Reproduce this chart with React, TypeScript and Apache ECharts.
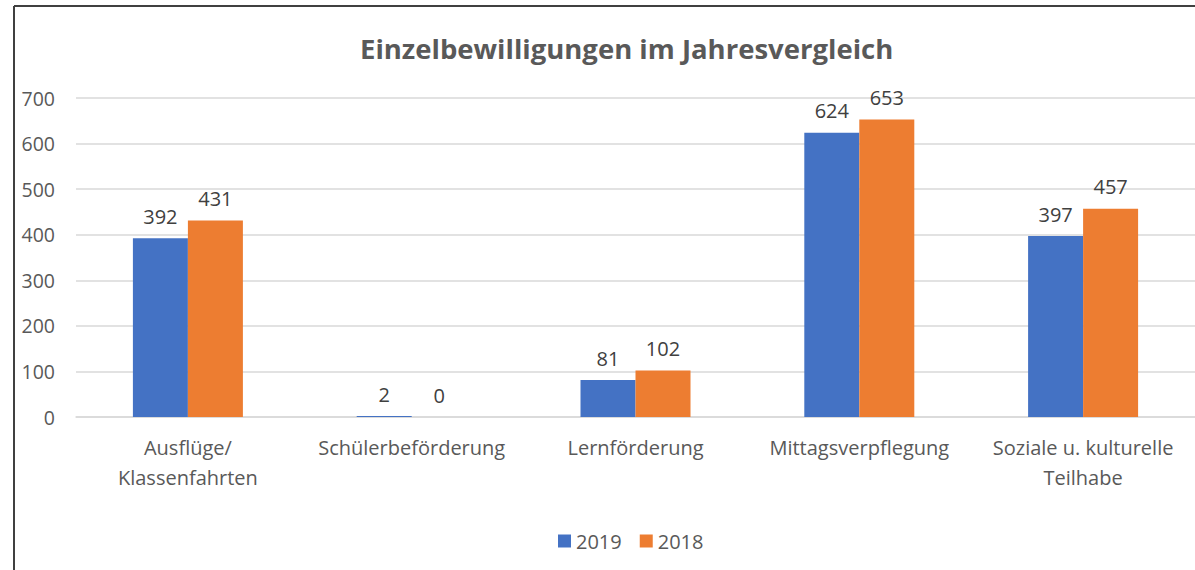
import React, { useEffect, useRef } from "react";
import * as echarts from "echarts";

const categories = [
  "Ausflüge/\nKlassenfahrten",
  "Schülerbeförderung",
  "Lernförderung",
  "Mittagsverpflegung",
  "Soziale u. kulturelle\nTeilhabe",
];
const values2019 = [392, 2, 81, 624, 397];
const values2018 = [431, 0, 102, 653, 457];
const seriesNames = ["2019", "2018"];
const titleText = "Einzelbewilligungen im Jahresvergleich";

const FONT = "'Open Sans', 'Noto Sans', sans-serif";

export default function App() {
  const ref = useRef<HTMLDivElement>(null);
  useEffect(() => {
    document.body.style.margin = "0";
    const chart = echarts.init(ref.current!, null, { renderer: "svg" });
    const label = {
      show: true,
      position: "top",
      distance: 12,
      color: "#404040",
      fontSize: 20,
      fontFamily: FONT,
    };
    chart.setOption({
      animation: false,
      backgroundColor: "#ffffff",
      title: {
        text: titleText,
        left: 355,
        top: 29,
        textStyle: { fontFamily: FONT, fontSize: 27.5, fontWeight: "bold", color: "#595959" },
      },
      legend: {
        data: seriesNames,
        left: 553,
        top: 526,
        itemWidth: 13,
        itemHeight: 13,
        itemGap: 18,
        icon: "rect",
        textStyle: { fontFamily: FONT, fontSize: 20, color: "#595959" },
      },
      grid: { left: 76, right: 0, top: 98, bottom: 153, containLabel: false },
      xAxis: {
        type: "category",
        data: categories,
        axisLine: { lineStyle: { color: "#d9d9d9", width: 1.5 } },
        axisTick: { show: false },
        axisLabel: {
          color: "#595959",
          fontSize: 20,
          fontFamily: FONT,
          lineHeight: 30,
          margin: 15,
          interval: 0,
        },
      },
      yAxis: {
        type: "value",
        min: 0,
        max: 700,
        interval: 100,
        axisLine: { show: false },
        axisTick: { show: false },
        splitLine: { lineStyle: { color: "#d9d9d9", width: 1.5 } },
        axisLabel: { color: "#595959", fontSize: 19.5, fontFamily: FONT, margin: 21 },
      },
      series: [
        {
          name: seriesNames[0],
          type: "bar",
          data: values2019,
          barWidth: 55,
          barGap: "0%",
          itemStyle: { color: "#4472C4" },
          label,
        },
        {
          name: seriesNames[1],
          type: "bar",
          data: values2018,
          barWidth: 55,
          barGap: "0%",
          itemStyle: { color: "#ED7D31" },
          label,
        },
      ],
      graphic: [
        { type: "line", shape: { x1: 14, y1: 6, x2: 1195, y2: 6 }, style: { stroke: "#404040", lineWidth: 2 }, z: 100 },
        { type: "line", shape: { x1: 14, y1: 6, x2: 14, y2: 570 }, style: { stroke: "#404040", lineWidth: 2 }, z: 100 },
      ],
    });
    return () => chart.dispose();
  }, []);
  return <div ref={ref} style={{ width: 1195, height: 570 }} />;
}
